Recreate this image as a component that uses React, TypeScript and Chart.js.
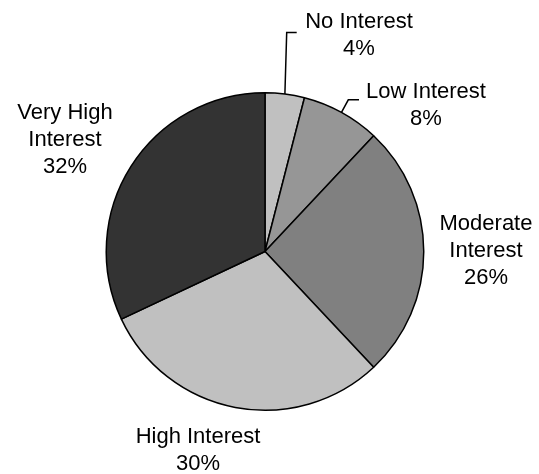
import React, { useEffect, useRef } from "react";
import { Chart, registerables } from "chart.js";

Chart.register(...registerables);

const categories = ["No Interest", "Low Interest", "Moderate Interest", "High Interest", "Very High Interest"];
const values = [4, 8, 26, 30, 32];
const labelLines = [
  ["No Interest", "4%"],
  ["Low Interest", "8%"],
  ["Moderate", "Interest", "26%"],
  ["High Interest", "30%"],
  ["Very High", "Interest", "32%"],
];
const colors = ["#c0c0c0", "#969696", "#808080", "#c0c0c0", "#333333"];

// label placement offsets relative to the pie center (px): center x, first baseline y
const labelPos = [
  { dx: 94, dy: -224 },
  { dx: 161, dy: -154 },
  { dx: 221, dy: -22 },
  { dx: -67, dy: 191 },
  { dx: -200, dy: -133 },
];
// leader lines: intermediate points relative to center (after the arc edge point)
const leaders: Record<number, { dx: number; dy: number }[]> = {
  0: [{ dx: 21.7, dy: -219 }, { dx: 31.7, dy: -219 }],
  1: [{ dx: 83.3, dy: -151.7 }, { dx: 94, dy: -151.7 }],
};

const labelPlugin = {
  id: "pieLabels",
  afterDatasetsDraw(chart: any) {
    const ctx = chart.ctx;
    const meta = chart.getDatasetMeta(0);
    ctx.save();
    ctx.fillStyle = "#000";
    ctx.font = "22px 'Liberation Sans', Arial, sans-serif";
    ctx.textAlign = "center";
    ctx.textBaseline = "alphabetic";
    meta.data.forEach((arc: any, i: number) => {
      const { x, y, startAngle, endAngle, outerRadius } = arc.getProps(
        ["x", "y", "startAngle", "endAngle", "outerRadius"],
        true
      );
      const mid = (startAngle + endAngle) / 2;
      const pos = labelPos[i];
      labelLines[i].forEach((t, k) => {
        ctx.fillText(t, x + pos.dx, y + pos.dy + k * 27);
      });
      const ld = leaders[i];
      if (ld) {
        ctx.beginPath();
        ctx.strokeStyle = "#000";
        ctx.lineWidth = 1.5;
        const ex = x + Math.cos(mid) * outerRadius;
        const ey = y + Math.sin(mid) * outerRadius;
        ctx.moveTo(ex, ey);
        ld.forEach((p) => ctx.lineTo(x + p.dx, y + p.dy));
        ctx.stroke();
      }
    });
    ctx.restore();
  },
};

export default function App() {
  const ref = useRef<HTMLCanvasElement | null>(null);
  useEffect(() => {
    document.body.style.margin = "0";
    const canvas = ref.current!;
    const chart = new Chart(canvas, {
      type: "pie",
      data: {
        labels: categories,
        datasets: [
          {
            data: values,
            backgroundColor: colors,
            borderColor: "#000000",
            borderWidth: 1.5,
          },
        ],
      },
      options: {
        responsive: false,
        animation: false,
        devicePixelRatio: 1,
        layout: { padding: { left: 105, right: 114, top: 92, bottom: 63 } },
        plugins: {
          legend: { display: false },
          tooltip: { enabled: false },
        },
      },
      plugins: [labelPlugin],
    });
    return () => chart.destroy();
  }, []);
  return (
    <div style={{ width: 539, height: 474, background: "#fff" }}>
      <canvas ref={ref} width={539} height={474} style={{ display: "block", width: 539, height: 474 }} />
    </div>
  );
}
